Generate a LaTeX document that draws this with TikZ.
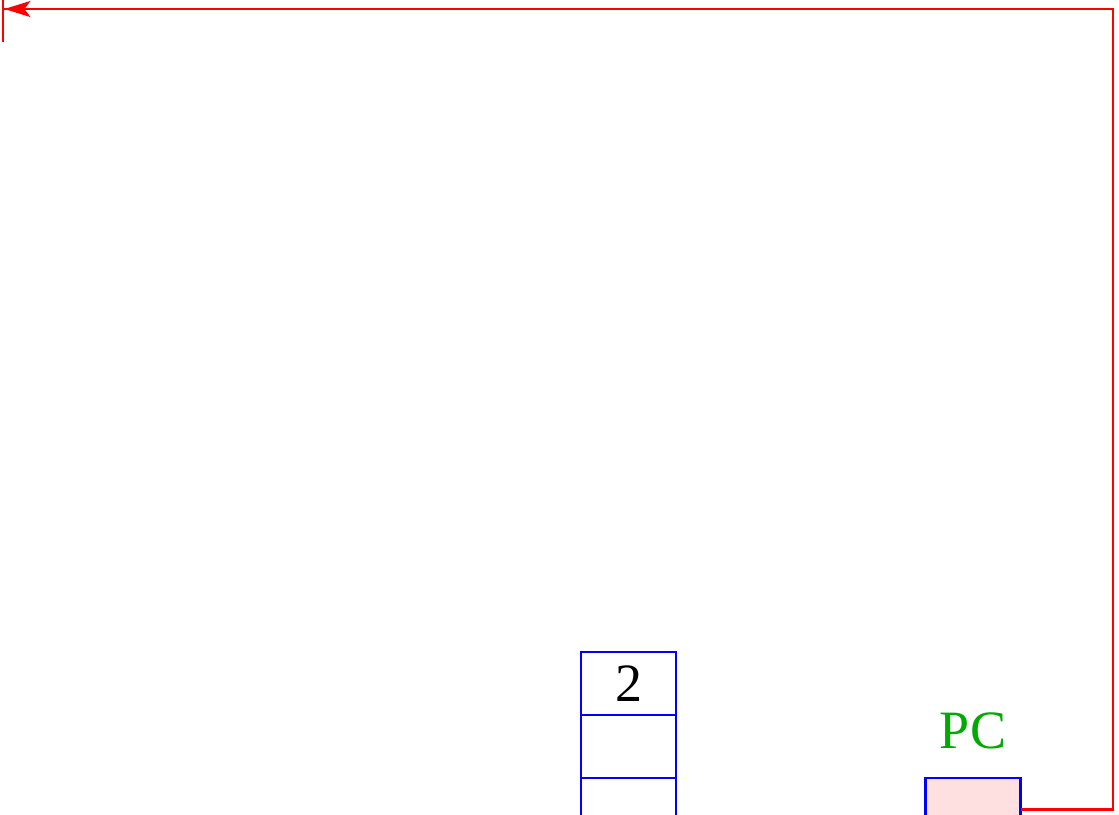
\documentclass[tikz,border=0pt]{standalone}
\usepackage{fontspec}
\setmainfont{Liberation Serif}
\usetikzlibrary{arrows.meta,positioning}
\definecolor{pcgreen}{RGB}{0,170,0}
\definecolor{pcfill}{RGB}{255,224,224}

\begin{document}
\begin{tikzpicture}[x=0.5pt,y=-0.5pt,
  cell/.style={draw=blue, line width=1.2pt, minimum width=47.5pt, minimum height=31.5pt, inner sep=0pt, outer sep=0pt, font=\fontsize{27}{31}\selectfont},
  link/.style={draw=red, line width=1.2pt}]
\useasboundingbox (0,0) rectangle (1119,814);
% stack
\node[cell] (s1) at (628.5,683.5) {2};
\node[cell, below=0pt of s1] (s2) {};
\node[cell, below=0pt of s2] (s3) {};
% program counter
\node[cell, fill=pcfill] (pc) at (973,809.5) {};
\node[text=pcgreen, font=\fontsize{27}{31}\selectfont, above=11pt of pc] (pclabel) {PC};
\coordinate (turn) at (1113,9);
\coordinate (target) at (2,9);
\draw[link, -{Stealth[length=13pt,width=8pt,inset=3pt] Bar[width=33pt]}] (pc.east) -| (turn) -- (target);
\end{tikzpicture}
\end{document}
